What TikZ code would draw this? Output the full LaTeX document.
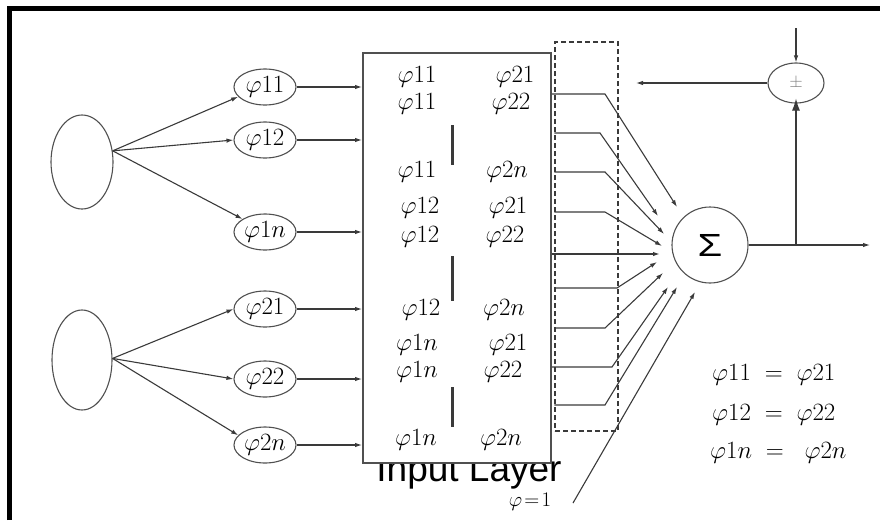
\documentclass[tikz,border=0pt]{standalone}
\usepackage{fontspec}
\usepackage{graphicx}
\usetikzlibrary{arrows.meta,shapes.geometric}
\newfontfamily\labfont{Liberation Sans}
\definecolor{ln}{HTML}{3A3A3A}
\definecolor{bx}{HTML}{505050}
\tikzset{
  arr/.style={draw=ln, line width=1.1pt, -{Latex[length=7pt,width=4.5pt]}},
  plain/.style={draw=ln, line width=1.1pt},
  bigell/.style={ellipse, draw=bx, line width=1.1pt, inner sep=0pt},
  phiell/.style={ellipse, draw=bx, line width=1.1pt, inner sep=0pt, minimum width=62pt, minimum height=36pt, font=\fontsize{25}{28}\selectfont},
  cell/.style={font=\fontsize{26}{28}\selectfont, inner sep=0pt},
  vbar/.style={draw=ln, line width=3pt},
  eqtxt/.style={font=\fontsize{25}{28}\selectfont, inner sep=0pt, anchor=base west}
}
\begin{document}
\begin{tikzpicture}[x=1pt, y=-1pt]
\useasboundingbox (0,0) rectangle (880,520);
% frame
\draw[line width=5pt, black] (9,520) -- (9,8) -- (880,8);

% left ellipses
\node[bigell, minimum width=62pt, minimum height=94pt] (big1) at (82,162) {};
\node[bigell, minimum width=60pt, minimum height=100pt] (big2) at (82,360) {};

% phi ellipses
\node[phiell] (e11) at (265,87) {$\varphi11$};
\node[phiell] (e12) at (265,140) {$\varphi12$};
\node[phiell] (e1n) at (265,232) {$\varphi1n$};
\node[phiell] (e21) at (265,309) {$\varphi21$};
\node[phiell] (e22) at (265,379) {$\varphi22$};
\node[phiell] (e2n) at (265,445) {$\varphi2n$};

% label under box (partly hidden by box)
\node[anchor=base, inner sep=0pt, font=\labfont\fontsize{37}{40}\selectfont] (lab) at (469,481) {Input Layer};

% input box
\node[draw=bx, fill=white, line width=2pt, minimum width=188pt, minimum height=410pt, inner sep=0pt] (box) at (457,258) {};
% dashed box
\node[draw=ln, dashed, dash pattern=on 5pt off 3pt, line width=1.3pt, minimum width=63pt, minimum height=389pt, inner sep=0pt] (dbox) at (586.5,236.5) {};

% box contents
\node[cell] (c1a) at (417,77) {$\varphi11$};
\node[cell] (c1b) at (515,77) {$\varphi21$};
\node[cell] (c2a) at (417,104) {$\varphi11$};
\node[cell] (c2b) at (511,104) {$\varphi22$};
\node[cell] (c3a) at (417,172) {$\varphi11$};
\node[cell] (c3b) at (507,172) {$\varphi2n$};
\node[cell] (c4a) at (420,208) {$\varphi12$};
\node[cell] (c4b) at (508,208) {$\varphi21$};
\node[cell] (c5a) at (420,237) {$\varphi12$};
\node[cell] (c5b) at (505,237) {$\varphi22$};
\node[cell] (c6a) at (421,310) {$\varphi12$};
\node[cell] (c6b) at (504,310) {$\varphi2n$};
\node[cell] (c7a) at (417,345) {$\varphi1n$};
\node[cell] (c7b) at (508,345) {$\varphi21$};
\node[cell] (c8a) at (417,372) {$\varphi1n$};
\node[cell] (c8b) at (503,372) {$\varphi22$};
\node[cell] (c9a) at (416,440) {$\varphi1n$};
\node[cell] (c9b) at (501,440) {$\varphi2n$};
\draw[vbar] (452,125) -- (452,165);
\draw[vbar] (452,256) -- (452,301);
\draw[vbar] (452,387) -- (452,427);

% arrows from big ellipses to phi ellipses
\draw[arr] (big1.20) -- (e11.200);
\draw[arr] (big1.20) -- (e12.west);
\draw[arr] (big1.20) -- (e1n.150);
\draw[arr] (big2.3) -- (e21.west);
\draw[arr] (big2.3) -- (e22.west);
\draw[arr] (big2.3) -- (e2n.160);

% arrows from phi ellipses to box
\foreach \e in {e11,e12,e1n,e21,e22,e2n}
  \draw[arr] (\e.east) -- (\e.east -| box.west);

% summation node
\node[circle, draw=bx, line width=1.1pt, minimum size=76pt, inner sep=0pt] (sigma) at (710,245) {\labfont\fontsize{32}{32}\selectfont\scalebox{1.25}[1]{Σ}};

% bends and tips
\coordinate (b1) at (605,94);   \coordinate (t1) at (677,207);
\coordinate (b2) at (600,133);  \coordinate (t2) at (658,216);
\coordinate (b3) at (605,172);  \coordinate (t3) at (664,234);
\coordinate (b4) at (605,212);  \coordinate (t4) at (662,246);
\coordinate (b5) at (600,254);  \coordinate (t5) at (660,254);
\coordinate (b6) at (617,288);  \coordinate (t6) at (657,262);
\coordinate (b7) at (605,328);  \coordinate (t7) at (663,273);
\coordinate (b8) at (612,367);  \coordinate (t8) at (668,287);
\coordinate (b9) at (605,405);  \coordinate (t9) at (677,287);
\coordinate (p1) at (573,503);  \coordinate (t10) at (695,292);

\draw[arr] (b1 -| box.east) -- (b1) -- (t1);
\draw[arr] (b2 -| dbox.west) -- (b2) -- (t2);
\draw[arr] (b3 -| dbox.west) -- (b3) -- (t3);
\draw[arr] (b4 -| dbox.west) -- (b4) -- (t4);
\draw[arr, line width=1.8pt] (b5 -| box.east) -- (t5);
\draw[arr] (b6 -| dbox.west) -- (b6) -- (t6);
\draw[arr] (b7 -| dbox.west) -- (b7) -- (t7);
\draw[arr] (b8 -| box.east) -- (b8) -- (t8);
\draw[arr] (b9 -| dbox.west) -- (b9) -- (t9);
\draw[arr] (p1) -- (t10);
\node[font=\fontsize{21}{24}\selectfont, inner sep=0pt] (one) at (530,502) {$\varphi\!=\!1$};

% feedback
\node[ellipse, draw=bx, line width=1.1pt, minimum width=56pt, minimum height=40pt, inner sep=0pt, text=gray, font=\fontsize{16}{16}\selectfont] (pm) at (796,83) {$\pm$};
\coordinate (top) at (796,28);
\coordinate (fb) at (636,83);
\coordinate (out) at (870,245);
\coordinate (jn) at (796,245);
\draw[arr] (top) -- (pm.north);
\draw[arr] (pm.west) -- (fb);
\draw[arr] (sigma.east) -- (out);
\draw[draw=ln, line width=1.1pt, -{Latex[length=12pt,width=8pt]}] (jn) -- ([yshift=5pt]pm.south);

% equalities
\node[eqtxt] (q1) at (712,380) {$\varphi11\;=\;\varphi21$};
\node[eqtxt] (q2) at (712,420) {$\varphi12\;=\;\varphi22$};
\node[eqtxt] (q3) at (710,458) {$\varphi1n\;=\;\;\varphi2n$};
\end{tikzpicture}
\end{document}
